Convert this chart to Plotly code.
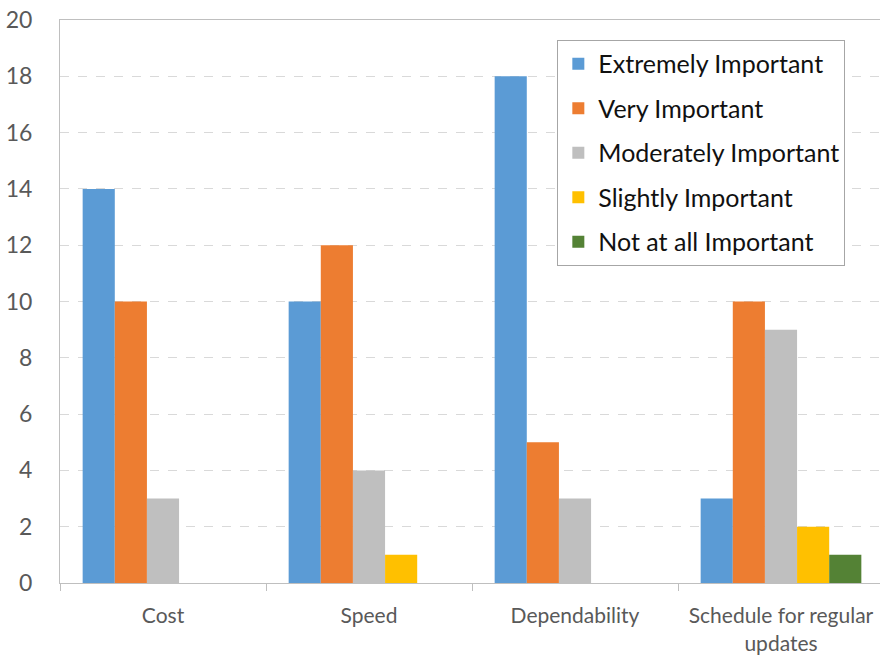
import plotly.graph_objects as go

categories = ["Cost", "Speed", "Dependability", "Schedule for regular<br>updates"]
series_names = ["Extremely Important", "Very Important", "Moderately Important",
                "Slightly Important", "Not at all Important"]
extremely = [14, 10, 18, 3]
very = [10, 12, 5, 10]
moderately = [3, 4, 3, 9]
slightly = [0, 1, 0, 2]
not_at_all = [0, 0, 0, 1]
colors = ["#5B9BD5", "#ED7D31", "#BFBFBF", "#FFC000", "#548235"]
y_ticks = [0, 2, 4, 6, 8, 10, 12, 14, 16, 18, 20]

FONT = "Lato, 'Open Sans', sans-serif"

fig = go.Figure()
for i, (name, vals) in enumerate(zip(series_names, [extremely, very, moderately, slightly, not_at_all])):
    fig.add_trace(go.Bar(
        x=categories, y=vals, name=name,
        marker=dict(color=colors[i], line=dict(width=0)),
        legendgroup=f"g{i}",
    ))

fig.update_layout(
    width=880, height=656,
    margin=dict(l=60, r=0, t=20, b=73, autoexpand=False),
    paper_bgcolor="white", plot_bgcolor="white",
    barmode="group", bargap=0.22, bargroupgap=0,
    font=dict(family=FONT, color="#595959"),
    legend=dict(
        x=0.6065, y=0.9645, xanchor="left", yanchor="top",
        bgcolor="white", bordercolor="#A6A6A6", borderwidth=1,
        font=dict(size=25, color="#111111", family=FONT),
        tracegroupgap=9, traceorder="grouped",
    ),
    xaxis=dict(
        type="category", range=[-0.5, 3.4806], automargin=False,
        showgrid=False, showline=True, linecolor="#BFBFBF", linewidth=1,
        mirror=True,
        ticks="outside", tickson="boundaries", ticklen=7, tickcolor="#BFBFBF",
        tickfont=dict(size=21, color="#595959"),
        ticklabelstandoff=14,
    ),
    yaxis=dict(
        range=[0, 20], tickvals=y_ticks, ticks="", automargin=False,
        showgrid=True, gridcolor="#D9D9D9", griddash="dash", gridwidth=1,
        showline=True, linecolor="#BFBFBF", linewidth=1,
        zeroline=False,
        tickfont=dict(size=23, color="#595959"),
        ticklabelstandoff=22,
    ),
)

fig.write_html(
    "out.html",
    config={"displayModeBar": False},
    post_script="document.body.style.margin='0';document.body.style.overflow='hidden';",
)
